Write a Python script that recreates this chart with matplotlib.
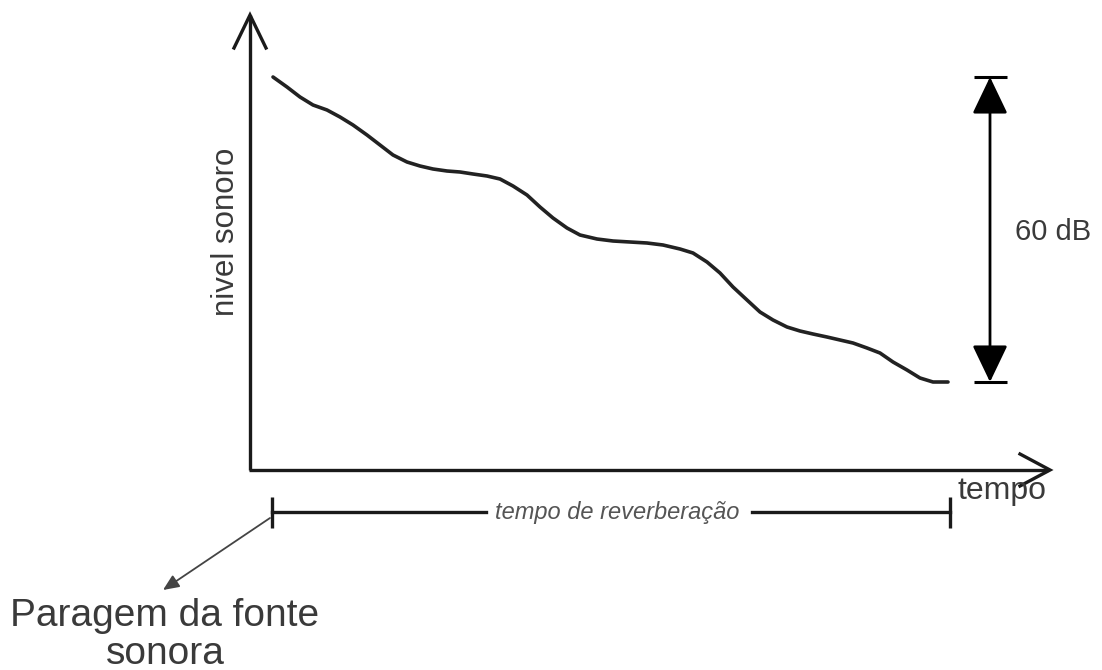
import matplotlib.pyplot as plt

plt.rcParams['font.family'] = ['Liberation Sans', 'DejaVu Sans']

# curva de decaimento (coordenadas em pixels)
curve_x = [273, 287, 300, 313, 327, 340, 353, 367, 380, 393, 407, 420, 433, 447, 460,
           473, 487, 500, 513, 527, 540, 553, 567, 580, 597, 613, 630, 647, 663, 680,
           693, 707, 720, 733, 747, 760, 773, 787, 800, 813, 827, 840, 853, 867, 880,
           893, 907, 920, 933, 948]
curve_y = [77, 87, 97, 105, 110, 117, 125, 135, 145, 155, 162, 166, 169, 171, 172,
           174, 176, 179, 186, 195, 207, 218, 228, 235, 239, 241, 242, 243, 245, 249,
           253, 262, 273, 287, 300, 312, 320, 327, 331, 334, 337, 340, 343, 348, 353,
           362, 370, 378, 382, 382]

# eixos
origin = (250, 470)
y_top = 15
x_right = 1050

# intervalo de 60 dB
dim_x = 990
dim_top = 77
dim_bot = 382

# tempo de reverberacao
rt_y = 512
rt_start = 272
rt_end = 950

ink = '#1a1a1a'
txt = '#3a3a3a'

fig = plt.figure(figsize=(11.02, 6.70), dpi=100)
ax = fig.add_axes([0, 0, 1, 1])
ax.set_xlim(0, 1102)
ax.set_ylim(670, 0)
ax.axis('off')

# eixo vertical com seta aberta
ax.plot([origin[0], origin[0]], [origin[1], y_top], color=ink, lw=2.4,
        solid_capstyle='butt')
ax.plot([origin[0] - 16, origin[0], origin[0] + 16], [y_top + 33, y_top, y_top + 33],
        color=ink, lw=2.4, solid_joinstyle='miter')
# eixo horizontal com seta aberta
ax.plot([origin[0] - 1, x_right - 2], [origin[1], origin[1]], color=ink, lw=2.4,
        solid_capstyle='butt')
ax.plot([x_right - 30, x_right, x_right - 30], [origin[1] - 16, origin[1], origin[1] + 16],
        color=ink, lw=2.4, solid_joinstyle='miter')

# curva
ax.plot(curve_x, curve_y, color='#222222', lw=2.6, solid_joinstyle='round',
        solid_capstyle='round')

# cota 60 dB
ax.annotate('', xy=(dim_x, dim_top), xytext=(dim_x, dim_bot),
            arrowprops=dict(arrowstyle='<|-|>,head_length=1.15,head_width=0.55',
                            mutation_scale=20, color='black', lw=2, shrinkA=0, shrinkB=0))
ax.hlines([dim_top, dim_bot], dim_x - 16, dim_x + 17, color='black', lw=2.2)
ax.text(1053, 232, '60 dB', fontsize=21, color=txt, ha='center', va='center')

# tempo de reverberacao
ax.plot([rt_start, 486], [rt_y, rt_y], color=ink, lw=2.4)
ax.plot([752, rt_end], [rt_y, rt_y], color=ink, lw=2.4)
ax.vlines([rt_start, rt_end], rt_y - 15, rt_y + 16, color=ink, lw=2.4)
ax.text(617, rt_y, 'tempo de reverberação', fontsize=17, style='italic',
        color='#555555', ha='center', va='center')

# rotulos
ax.text(226, 232, 'nivel sonoro', fontsize=22.5, color=txt, rotation=90,
        ha='center', va='center')
ax.text(1002, 491, 'tempo', fontsize=23, color=txt, ha='center', va='center')

# paragem da fonte
ax.annotate('', xy=(163, 590), xytext=(rt_start - 2, rt_y + 6),
            arrowprops=dict(arrowstyle='-|>,head_length=0.8,head_width=0.35',
                            mutation_scale=12, color='#444444', lw=1.3,
                            shrinkA=0, shrinkB=0))
ax.text(165, 635, 'Paragem da fonte\nsonora', fontsize=28, color=txt,
        ha='center', va='center', linespacing=1.05)

fig.savefig('out.png', dpi=100, facecolor='white')
